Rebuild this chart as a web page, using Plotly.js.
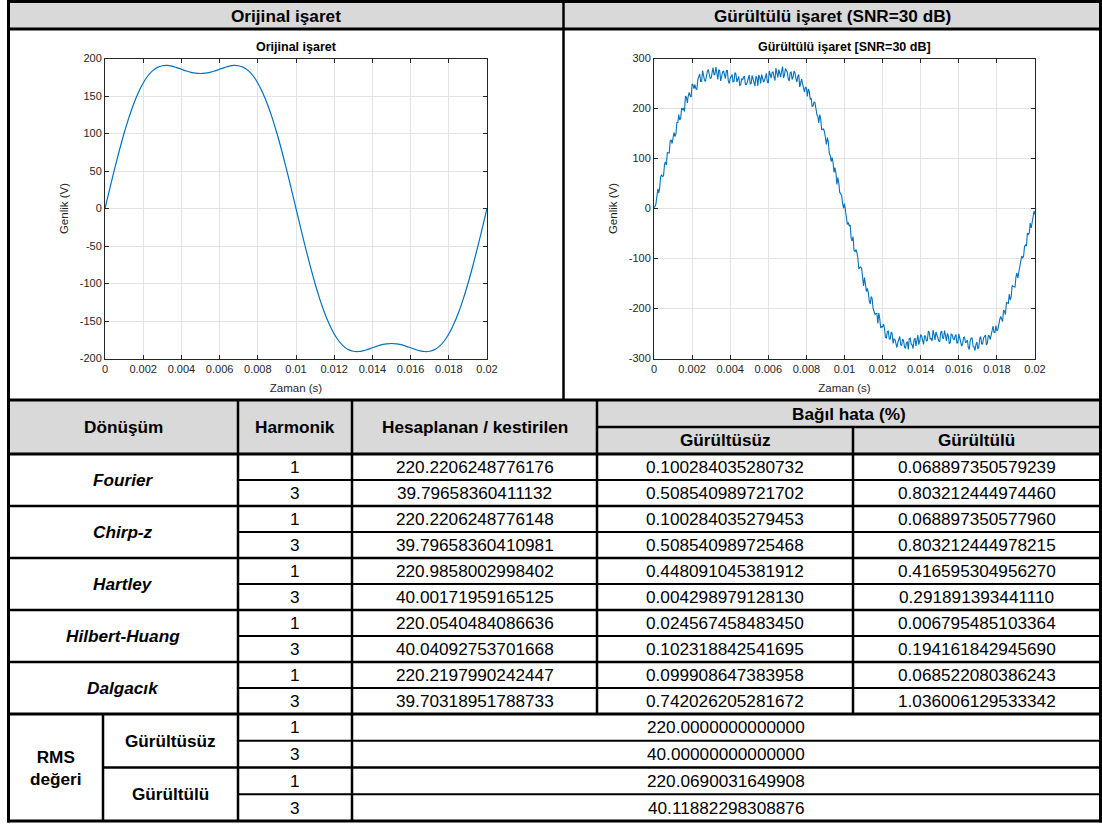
<!DOCTYPE html>
<html>
<head>
<meta charset="utf-8">
<script src="https://cdn.plot.ly/plotly-3.0.1.min.js"></script>
<style>
html,body{margin:0;padding:0;background:#fff;}
#chart{width:1102px;height:824px;}
</style>
</head>
<body>
<div id="chart"></div>
<script>
// ---------------- DATA ----------------
const originalStep = 0.00025; // s between samples
const originalSignal = [0, 26.6, 52.6, 77.3, 100.3, 121.1, 139.4, 154.8, 167.4, 177.0, 183.8, 188.2, 190.3, 190.7, 189.8, 187.9, 185.7, 183.5, 181.6, 180.4, 180.0, 180.4, 181.6, 183.5, 185.7, 187.9, 189.8, 190.7, 190.3, 188.2, 183.8, 177.0, 167.4, 154.8, 139.4, 121.1, 100.3, 77.3, 52.6, 26.6, 0, -26.6, -52.6, -77.3, -100.3, -121.1, -139.4, -154.8, -167.4, -177.0, -183.8, -188.2, -190.3, -190.7, -189.8, -187.9, -185.7, -183.5, -181.6, -180.4, -180.0, -180.4, -181.6, -183.5, -185.7, -187.9, -189.8, -190.7, -190.3, -188.2, -183.8, -177.0, -167.4, -154.8, -139.4, -121.1, -100.3, -77.3, -52.6, -26.6, 0];

const noisyStep = 0.00005; // s between samples
const noisySignal = [
2,4, 9,31, 39,31, 42,64, 67,64, 65,88, 93,87, 112,111, 111,135, 137,130,
140,152, 144,149, 172,172, 188,177, 180,201, 198,200, 194,224, 223,211, 226,232, 225,223,
249,247, 240,248, 239,238, 258,264, 269,254, 254,276, 264,257, 254,268, 274,278, 271,260,
261,275, 282,267, 269,283, 265,258, 278,275, 255,267, 273,275, 268,260, 276,276, 255,250,
260,265, 268,253, 254,272, 269,253, 259,264, 246,247, 260,257, 263,264, 248,248, 253,259,
267,249, 250,266, 258,253, 245,264, 262,245, 267,262, 250,268, 259,253, 256,264, 270,253,
251,275, 266,261, 272,273, 263,256, 281,270, 262,278, 268,263, 275,284, 261,267, 280,276,
272,259, 255,272, 273,258, 263,275, 271,260, 253,264, 268,243, 249,259, 249,240, 233,243,
241,224, 239,234, 218,221, 204,205, 213,212, 199,188, 184,171, 188,179, 158,158, 159,153,
141,128, 142,134, 110,106, 94,102, 92,72, 82,71, 48,62, 51,32, 30,25, 11,0,
10,-3, -22,-32, -28,-35, -33,-60, -65,-56, -84,-86, -82,-88, -99,-121, -118,-117, -120,-138,
-155,-138, -153,-166, -160,-168, -185,-191, -176,-180, -200,-207, -212,-210, -210,-230, -209,-220, -239,-236,
-237,-231, -240,-258, -259,-246, -245,-261, -261,-247, -250,-270, -261,-262, -272,-278, -268,-262, -256,-273,
-274,-261, -264,-277, -280,-269, -266,-282, -260,-259, -271,-273, -280,-263, -259,-275, -264,-253, -272,-265,
-252,-255, -263,-272, -255,-255, -265,-264, -245,-248, -261,-260, -265,-243, -252,-263, -247,-253, -255,-265,
-266,-248, -245,-259, -260,-244, -253,-265, -250,-255, -270,-269, -251,-252, -260,-263, -256,-252, -269,-269,
-251,-259, -267,-275, -271,-258, -257,-268, -267,-263, -278,-282, -264,-259, -259,-276, -277,-284, -272,-267,
-281,-277, -260,-256, -271,-271, -259,-257, -253,-273, -269,-254, -255,-262, -254,-240, -235,-248, -248,-234,
-245,-242, -226,-222, -216,-221, -226,-203, -206,-212, -188,-189, -190,-171, -183,-177, -154,-156, -156,-157,
-137,-129, -139,-128, -113,-99, -95,-99, -96,-76, -73,-75, -49,-52, -49,-29, -39,-28, -9,-5,
-12
];

const timeTickVals = [0, 0.002, 0.004, 0.006, 0.008, 0.01, 0.012, 0.014, 0.016, 0.018, 0.02];
const timeTickText = ["0", "0.002", "0.004", "0.006", "0.008", "0.01", "0.012", "0.014", "0.016", "0.018", "0.02"];
const originalTickVals = [-200, -150, -100, -50, 0, 50, 100, 150, 200];
const noisyTickVals = [-300, -200, -100, 0, 100, 200, 300];

const panelHeaders = ["Orijinal işaret", "Gürültülü işaret (SNR=30 dB)"];
const plotTitles = ["Orijinal işaret", "Gürültülü işaret [SNR=30 dB]"];
const xTitle = "Zaman (s)";
const yTitle = "Genlik (V)";

const tableHeaders = ["Dönüşüm", "Harmonik", "Hesaplanan / kestirilen", "Bağıl hata (%)", "Gürültüsüz", "Gürültülü"];
const methods = ["Fourier", "Chirp-z", "Hartley", "Hilbert-Huang", "Dalgacık"];
const harmonics = ["1", "3"];
const estimated = [
  "220.2206248776176", "39.79658360411132",
  "220.2206248776148", "39.79658360410981",
  "220.9858002998402", "40.00171959165125",
  "220.0540484086636", "40.04092753701668",
  "220.2197990242447", "39.70318951788733"
];
const errorNoiseless = [
  "0.100284035280732", "0.508540989721702",
  "0.100284035279453", "0.508540989725468",
  "0.448091045381912", "0.004298979128130",
  "0.024567458483450", "0.102318842541695",
  "0.099908647383958", "0.742026205281672"
];
const errorNoisy = [
  "0.068897350579239", "0.803212444974460",
  "0.068897350577960", "0.803212444978215",
  "0.416595304956270", "0.291891393441110",
  "0.006795485103364", "0.194161842945690",
  "0.068522080386243", "1.036006129533342"
];
const rmsLabel = "RMS<br>değeri";
const rmsGroups = ["Gürültüsüz", "Gürültülü"];
const rmsValues = ["220.0000000000000", "40.00000000000000", "220.0690031649908", "40.11882298308876"];

// ---------------- FONT PICK ----------------
function hasFont(name){
  const c = document.createElement('canvas').getContext('2d');
  const s = '220.2206248776176 Gürültülü işaret';
  c.font = '21px monospace'; const a = c.measureText(s).width;
  c.font = "21px '" + name + "', monospace"; const b = c.measureText(s).width;
  return Math.abs(a - b) > 0.5;
}
let tFamily = "'Liberation Sans Narrow', 'Arial Narrow', sans-serif", tSize = 21;
if (!hasFont('Liberation Sans Narrow') && !hasFont('Arial Narrow')) {
  tFamily = "'Liberation Sans', Arial, sans-serif"; tSize = 17.2;
}
const plotFont = "'Liberation Sans', Arial, Helvetica, sans-serif";

// ---------------- GEOMETRY ----------------
const W = 1102, H = 824;
const px = x => x / W, py = y => 1 - y / H;
const shapes = [], annotations = [];
function rect(x0, y0, x1, y1, fill){
  shapes.push({type:'rect', xref:'paper', yref:'paper', x0:px(x0), x1:px(x1), y0:py(y1), y1:py(y0), fillcolor:fill, line:{width:0}, layer:'below'});
}
function hline(y, x0, x1, w){
  shapes.push({type:'line', xref:'paper', yref:'paper', x0:px(x0), x1:px(x1), y0:py(y), y1:py(y), line:{color:'#000', width:w}});
}
function vline(x, y0, y1, w){
  shapes.push({type:'line', xref:'paper', yref:'paper', x0:px(x), x1:px(x), y0:py(y0), y1:py(y1), line:{color:'#000', width:w}});
}
function txt(s, x, y, opts){
  annotations.push(Object.assign({text:s, xref:'paper', yref:'paper', x:px(x), y:py(y), xanchor:'center', yanchor:'middle', showarrow:false,
    font:{family:tFamily, size:tSize, color:'#000'}}, opts || {}));
}

const L = 8.5, R = 1100.5;
const colX = [L, 238, 352, 597, 853, R];
const dataTop = 454, rowH = 26, rmsTop = 714, rmsH = 26.75, bottom = 821;

// grey header fills
rect(L, 1.5, R, 29, '#d9d9d9');
rect(L, 400, R, 454, '#d9d9d9');

// outer and main lines
hline(1.5, 7, W, 3);
hline(29, 7, W, 3);
hline(400, 7, W, 3);
hline(454, 7, W, 3);
hline(rmsTop, 7, W, 3);
hline(bottom, 7, W, 3);
vline(L, 0, 822.5, 3);
vline(R, 0, 822.5, 3);
vline(563.5, 1.5, 400, 2.5);
hline(427, 597, W, 2.5);
vline(238, 400, bottom, 2.5);
vline(352, 400, bottom, 2.5);
vline(597, 400, rmsTop, 2.5);
vline(853, 427, rmsTop, 2.5);
vline(103, rmsTop, bottom, 2.5);
for (let i = 1; i < 10; i++) {
  const y = dataTop + rowH * i;
  if (i % 2) hline(y, 238, W, 2); else hline(y, 7, W, 2.5);
}
hline(rmsTop + rmsH, 238, W, 2);
hline(rmsTop + 2 * rmsH, 103, W, 2.5);
hline(rmsTop + 3 * rmsH, 238, W, 2);

// panel headers
txt('<b>' + panelHeaders[0] + '</b>', (L + 563.5) / 2, 15.5);
txt('<b>' + panelHeaders[1] + '</b>', (563.5 + R) / 2, 15.5);

// table header
txt('<b>' + tableHeaders[0] + '</b>', (colX[0] + colX[1]) / 2, 427);
txt('<b>' + tableHeaders[1] + '</b>', (colX[1] + colX[2]) / 2, 427);
txt('<b>' + tableHeaders[2] + '</b>', (colX[2] + colX[3]) / 2, 427);
txt('<b>' + tableHeaders[3] + '</b>', (colX[3] + colX[5]) / 2, 413.5);
txt('<b>' + tableHeaders[4] + '</b>', (colX[3] + colX[4]) / 2, 440.5);
txt('<b>' + tableHeaders[5] + '</b>', (colX[4] + colX[5]) / 2, 440.5);

// data rows
methods.forEach((m, mi) => {
  txt('<b><i>' + m + '</i></b>', (colX[0] + colX[1]) / 2, dataTop + rowH * (2 * mi + 1));
  harmonics.forEach((h, hi) => {
    const r = 2 * mi + hi;
    const yc = dataTop + rowH * (r + 0.5);
    txt(h, (colX[1] + colX[2]) / 2, yc);
    txt(estimated[r], (colX[2] + colX[3]) / 2, yc);
    txt(errorNoiseless[r], (colX[3] + colX[4]) / 2, yc);
    txt(errorNoisy[r], (colX[4] + colX[5]) / 2, yc);
  });
});

// RMS rows
txt('<b>' + rmsLabel + '</b>', (L + 103) / 2, rmsTop + 2 * rmsH);
rmsGroups.forEach((g, gi) => {
  txt('<b>' + g + '</b>', (103 + 238) / 2, rmsTop + rmsH * (2 * gi + 1));
  harmonics.forEach((h, hi) => {
    const r = 2 * gi + hi;
    const yc = rmsTop + rmsH * (r + 0.5);
    txt(h, (colX[1] + colX[2]) / 2, yc);
    txt(rmsValues[r], (colX[2] + colX[5]) / 2, yc);
  });
});

// subplot titles
annotations.push({text:'<b>' + plotTitles[0] + '</b>', xref:'paper', yref:'paper', x:px(296), y:py(47), xanchor:'center', yanchor:'middle', showarrow:false, font:{family:plotFont, size:12.5, color:'#000'}});
annotations.push({text:'<b>' + plotTitles[1] + '</b>', xref:'paper', yref:'paper', x:px(844.5), y:py(47), xanchor:'center', yanchor:'middle', showarrow:false, font:{family:plotFont, size:12.5, color:'#000'}});

// ---------------- PLOT ----------------
const axisBase = {
  showline:true, linecolor:'#262626', linewidth:1, mirror:'allticks',
  ticks:'inside', ticklen:4, tickwidth:1, tickcolor:'#262626',
  showgrid:true, gridcolor:'#e3e3e3', gridwidth:1, zeroline:false,
  tickfont:{family:plotFont, size:11, color:'#262626'},
  automargin:false, fixedrange:true
};
const xAxis = (dom, anchor) => Object.assign({}, axisBase, {
  domain:[px(dom[0]), px(dom[1])], anchor, range:[0, 0.02],
  tickmode:'array', tickvals:timeTickVals, ticktext:timeTickText,
  title:{text:xTitle, font:{family:plotFont, size:11.5, color:'#262626'}, standoff:10}
});
const yAxis = (anchor, rng, vals) => Object.assign({}, axisBase, {
  domain:[py(358.5), py(58.5)], anchor, range:rng,
  tickmode:'array', tickvals:vals, ticktext:vals.map(String),
  title:{text:yTitle, font:{family:plotFont, size:11.5, color:'#262626'}, standoff:8}
});

const traces = [
  {type:'scatter', mode:'lines', x0:0, dx:originalStep, y:originalSignal, xaxis:'x', yaxis:'y',
   line:{color:'#0072BD', width:1.2, shape:'spline'}, hoverinfo:'skip', showlegend:false},
  {type:'scatter', mode:'lines', x0:0, dx:noisyStep, y:noisySignal, xaxis:'x2', yaxis:'y2',
   line:{color:'#0072BD', width:1.1}, hoverinfo:'skip', showlegend:false}
];

const layout = {
  width:W, height:H, margin:{l:0, r:0, t:0, b:0, pad:0},
  paper_bgcolor:'#fff', plot_bgcolor:'#fff', showlegend:false,
  xaxis: xAxis([105, 487], 'y'),
  yaxis: yAxis('x', [-200, 200], originalTickVals),
  xaxis2: xAxis([654, 1035], 'y2'),
  yaxis2: yAxis('x2', [-300, 300], noisyTickVals),
  shapes, annotations
};

Plotly.newPlot('chart', traces, layout, {displayModeBar:false, staticPlot:true});
</script>
</body>
</html>
